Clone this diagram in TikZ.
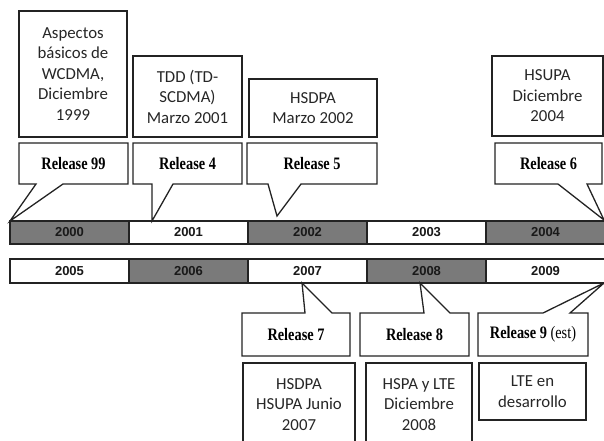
\documentclass[tikz,border=0pt]{standalone}
\usepackage{fontspec}
\usepackage{tikz}
\usetikzlibrary{positioning,calc}
\newfontfamily\boxfont{Carlito}
\newfontfamily\relfont{Liberation Serif}[FakeStretch=0.82]
\newfontfamily\yearfont{Liberation Sans}
\definecolor{bargray}{RGB}{122,122,122}
\definecolor{edge}{RGB}{35,35,35}

\tikzset{
  infobox/.style={draw=edge, line width=1.3pt, anchor=north west, inner sep=0pt, outer sep=0pt,
    align=center, text=black!85, font=\boxfont\fontsize{16.8}{20.5}\selectfont},
  relbody/.style={anchor=north west, inner sep=0pt, outer sep=0pt, minimum height=41pt,
    font=\relfont\bfseries\fontsize{17.5}{20}\selectfont},
  relline/.style={draw=edge, line width=1.3pt, line join=miter},
  yearcell/.style={draw=edge, line width=1.2pt, fill=white, minimum width=119pt, minimum height=23pt,
    inner sep=0pt, outer sep=0pt, text=black!90, font=\yearfont\bfseries\fontsize{13}{15}\selectfont},
  darkcell/.style={yearcell, fill=bargray},
}

\begin{document}
\begin{tikzpicture}[x=1pt, y=-1pt, node distance=0pt]
    \clip (0,0) rectangle (604,440);

    % timeline 2000-2004
    \node [darkcell, anchor=north west] (y2000) at (10,221) {2000};
    \node [yearcell, right=of y2000] (y2001) {2001};
    \node [darkcell, right=of y2001] (y2002) {2002};
    \node [yearcell, right=of y2002] (y2003) {2003};
    \node [darkcell, right=of y2003] (y2004) {2004};

    % timeline 2005-2009
    \node [yearcell, anchor=north west, minimum height=24pt] (y2005) at (10,259) {2005};
    \node [darkcell, minimum height=24pt, right=of y2005] (y2006) {2006};
    \node [yearcell, minimum height=24pt, right=of y2006] (y2007) {2007};
    \node [darkcell, minimum height=24pt, right=of y2007] (y2008) {2008};
    \node [yearcell, minimum height=24pt, right=of y2008] (y2009) {2009};

    % upper boxes
    \node [infobox, minimum width=108pt, minimum height=126pt] (spec99) at (19,11) {Aspectos\\básicos de\\WCDMA,\\Diciembre\\1999};
    \node [infobox, minimum width=109pt, minimum height=81pt] (spec4) at (133,56) {TDD (TD-\\SCDMA)\\Marzo 2001};
    \node [infobox, minimum width=128pt, minimum height=58pt] (spec5) at (249,79) {HSDPA\\Marzo 2002};
    \node [infobox, minimum width=111pt, minimum height=80pt] (spec6) at (492,56) {HSUPA\\Diciembre\\2004};

    \node [relbody, minimum width=109pt] (rel99) at (19,143) {Release 99};
    \node [relbody, minimum width=109pt] (rel4) at (133,143) {Release 4};
    \node [relbody, minimum width=130pt] (rel5) at (247,143) {Release 5};
    \node [relbody, minimum width=107pt] (rel6) at (495,143) {Release 6};

    \coordinate (tip99) at (y2000.north west);
    \coordinate (tip4) at ([xshift=23pt]y2001.north west);
    \coordinate (tip5) at ([xshift=29pt,yshift=5pt]y2002.north west);
    \coordinate (tip6) at ([xshift=-1pt,yshift=1pt]y2004.north east);

    \draw [relline] (rel99.south west) -- (rel99.north west) -- (rel99.north east) -- (rel99.south east)
        -- ([xshift=44pt]rel99.south west) -- (tip99) -- ([xshift=17pt]rel99.south west) -- cycle;
    \draw [relline] (rel4.south west) -- (rel4.north west) -- (rel4.north east) -- (rel4.south east)
        -- ([xshift=40pt]rel4.south west) -- (tip4) -- ([xshift=19pt]rel4.south west) -- cycle;
    \draw [relline] (rel5.south west) -- (rel5.north west) -- (rel5.north east) -- (rel5.south east)
        -- ([xshift=54pt]rel5.south west) -- (tip5) -- ([xshift=21pt]rel5.south west) -- cycle;
    \draw [relline] (rel6.south west) -- (rel6.north west) -- (rel6.north east) -- (rel6.south east)
        -- ([xshift=92pt]rel6.south west) -- (tip6) -- ([xshift=63pt]rel6.south west) -- cycle;

    % lower boxes
    \node [relbody, minimum width=108pt, minimum height=43pt] (rel7) at (242,313) {Release 7};
    \node [relbody, minimum width=109pt, minimum height=43pt] (rel8) at (360,313) {Release 8};
    \node [relbody, minimum width=110pt, minimum height=43pt] (rel9) at (478,313) {Release 9 \mdseries(est)};

    \coordinate (tip7) at ([xshift=54pt]y2007.south west);
    \coordinate (tip8) at ([xshift=53pt]y2008.south west);
    \coordinate (tip9) at ([xshift=-1pt]y2009.south east);

    \draw [relline] (rel7.north west) -- ([xshift=63pt]rel7.north west) -- (tip7) -- ([xshift=90pt]rel7.north west)
        -- (rel7.north east) -- (rel7.south east) -- (rel7.south west) -- cycle;
    \draw [relline] (rel8.north west) -- ([xshift=64pt]rel8.north west) -- (tip8) -- ([xshift=90pt]rel8.north west)
        -- (rel8.north east) -- (rel8.south east) -- (rel8.south west) -- cycle;
    \draw [relline] (rel9.north west) -- ([xshift=65pt]rel9.north west) -- (tip9) -- ([xshift=92pt]rel9.north west)
        -- (rel9.north east) -- (rel9.south east) -- (rel9.south west) -- cycle;

    \node [infobox, minimum width=112pt, minimum height=83pt] (spec7) at (243,363) {HSDPA\\HSUPA Junio\\2007};
    \node [infobox, minimum width=106pt, minimum height=83pt] (spec8) at (366,363) {HSPA y LTE\\Diciembre\\2008};
    \node [infobox, minimum width=107pt, minimum height=57pt] (spec9) at (479,363) {LTE en\\desarrollo};
\end{tikzpicture}
\end{document}
